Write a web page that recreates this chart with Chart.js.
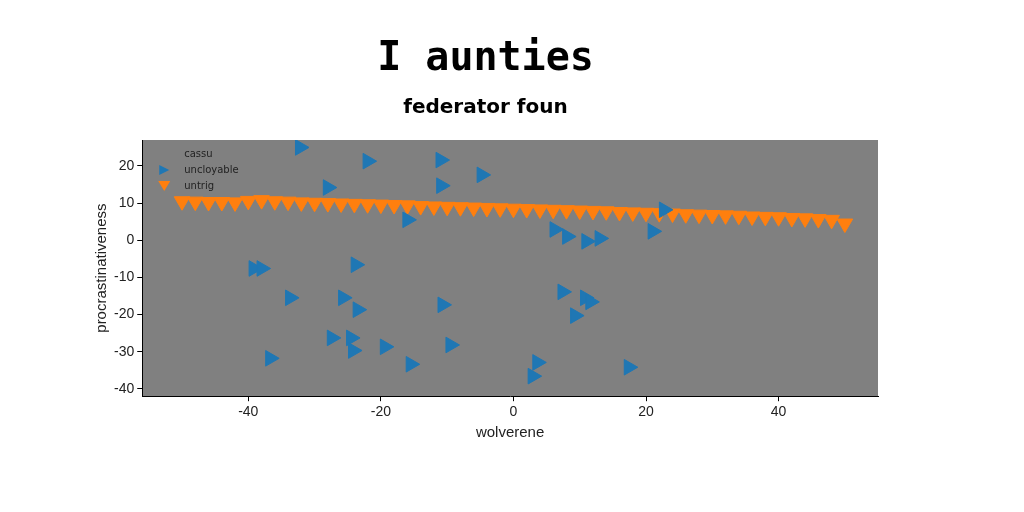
<!DOCTYPE html>
<html><head><meta charset="utf-8">
<script src="https://cdn.jsdelivr.net/npm/chart.js@4"></script>
<style>html,body{margin:0;background:#fff}#wrap{width:1024px;height:512px}</style>
</head><body><div id="wrap"><canvas id="c"></canvas></div>
<script>
const blueX = [-32.2,-22,-11,-10.9,-4.8,-28,-16,6.2,8.1,11,13,21,22.7,-39.2,-38,-23.8,-33.7,-25.7,-23.5,-10.7,7.4,10.8,11.6,9.3,-27.4,-24.5,-24.2,-19.4,-9.5,-36.7,-15.5,3.6,2.9,17.4];
const blueY = [25,21.3,21.6,14.7,17.6,14.2,5.5,2.9,1,-0.3,0.5,2.4,8.2,-7.6,-7.6,-6.6,-15.5,-15.5,-18.7,-17.4,-13.9,-15.5,-16.6,-20.3,-26.3,-26.3,-29.7,-28.7,-28.2,-31.8,-33.4,-32.9,-36.6,-34.2];
const orangeX = [-50,-48,-46,-44,-42,-40,-38,-36,-34,-32,-30,-28,-26,-24,-22,-20,-18,-16,-14,-12,-10,-8,-6,-4,-2,0,2,4,6,8,10,12,14,16,18,20,22,24,26,28,30,32,34,36,38,40,42,44,46,48,50];
const orangeY = [10.5,10.4,10.3,10.3,10.2,10.6,10.8,10.5,10.4,10.2,10.1,10,9.9,9.8,9.7,9.6,9.5,9.4,9.2,9.1,9,8.9,8.8,8.7,8.6,8.5,8.4,8.3,8.2,8.1,8,7.9,7.8,7.6,7.5,7.4,7.3,7.2,7,6.9,6.8,6.7,6.6,6.4,6.3,6.2,6,5.9,5.7,5.5,4.5];
const pts = (xs, ys) => xs.map((x, i) => ({x: x, y: ys[i]}));

const bgPlugin = {
  id: 'bg',
  beforeDraw(chart) {
    const a = chart.chartArea, ctx = chart.ctx;
    ctx.save(); ctx.fillStyle = '#808080';
    ctx.fillRect(a.left, a.top, a.right - a.left, a.bottom - a.top);
    ctx.restore();
  },
  afterDraw(chart) {
    // legend inside the plot, top left
    const a = chart.chartArea, ctx = chart.ctx;
    ctx.save();
    ctx.font = '10px DejaVu Sans';
    ctx.fillStyle = '#222';
    ctx.textBaseline = 'middle';
    chart.data.datasets.forEach((ds, i) => {
      const y = a.top + 14 + i * 16, x = a.left + 22;
      if (ds.pointRadius > 0) {
        ctx.fillStyle = ds.backgroundColor;
        ctx.beginPath();
        if (ds.rotation === 90) { ctx.moveTo(x + 5, y); ctx.lineTo(x - 5, y - 5); ctx.lineTo(x - 5, y + 5); }
        else { ctx.moveTo(x - 6, y - 5); ctx.lineTo(x + 6, y - 5); ctx.lineTo(x, y + 5); }
        ctx.fill();
      }
      ctx.fillStyle = '#222';
      ctx.fillText(ds.label, x + 20, y);
    });
    ctx.restore();
  }
};

new Chart(document.getElementById('c'), {
  type: 'scatter',
  data: {
    datasets: [
      {label: 'cassu', data: [], pointRadius: 0, backgroundColor: 'rgba(0,0,0,0)', borderColor: 'rgba(0,0,0,0)'},
      {label: 'uncloyable', data: pts(blueX, blueY), pointStyle: 'triangle', rotation: 90, pointRadius: 9,
       backgroundColor: '#1f77b4', borderColor: '#1f77b4'},
      {label: 'untrig', data: pts(orangeX, orangeY), pointStyle: 'triangle', rotation: 180, pointRadius: 9,
       backgroundColor: '#ff7f0e', borderColor: '#ff7f0e'}
    ]
  },
  options: {
    responsive: true, maintainAspectRatio: false, animation: false,
    layout: {padding: {left: 93, right: 146, top: 0, bottom: 70}},
    plugins: {
      title: {display: true, text: 'I aunties', color: '#000', font: {family: 'DejaVu Sans Mono', size: 40}, padding: {top: 36, bottom: 12}},
      subtitle: {display: true, text: 'federator foun', color: '#000', font: {family: 'DejaVu Sans', size: 20, weight: 'bold'}, padding: {bottom: 20}},
      legend: {display: false},
      tooltip: {enabled: false}
    },
    scales: {
      x: {min: -56, max: 55, grid: {color: 'rgba(0,0,0,0)', tickColor: '#000', drawTicks: true, tickLength: 5}, border: {color: '#000'},
          ticks: {color: '#222', font: {size: 14}},
          afterBuildTicks: s => { s.ticks = [-40,-20,0,20,40].map(v => ({value: v})); },
          title: {display: true, text: 'wolverene', color: '#222', font: {size: 15}, padding: 0}},
      y: {min: -42, max: 27, grid: {color: 'rgba(0,0,0,0)', tickColor: '#000', drawTicks: true, tickLength: 5}, border: {color: '#000'},
          ticks: {color: '#222', font: {size: 14}},
          afterBuildTicks: s => { s.ticks = [-40,-30,-20,-10,0,10,20].map(v => ({value: v})); },
          title: {display: true, text: 'procrastinativeness', color: '#222', font: {size: 15}, padding: 0}}
    }
  },
  plugins: [bgPlugin]
});
</script></body></html>
